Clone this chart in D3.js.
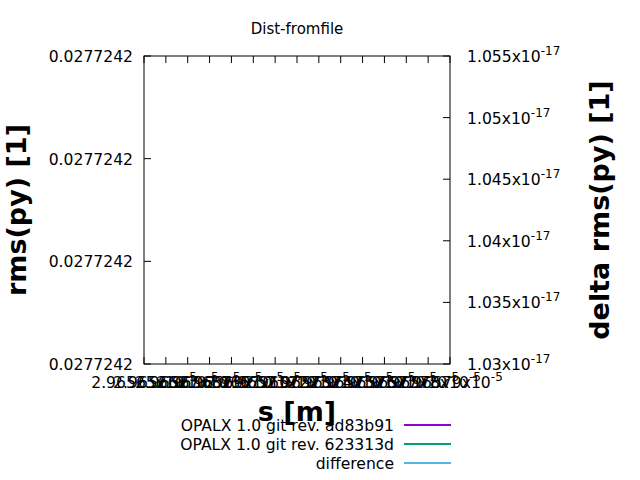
<!DOCTYPE html>
<html>
<head>
<meta charset="utf-8">
<style>
    body { margin: 0; background: #fff; }
    svg { font-family: "DejaVu Sans", sans-serif; }
    .frame { fill: none; stroke: #000; stroke-width: 1; }
    .tick { stroke: #000; stroke-width: 1; }
</style>
</head>
<body>
<svg width="640" height="480"></svg>
<script src="https://d3js.org/d3.v7.min.js"></script>
<script>
    // tick values as gnuplot printed them
    var xTicks = [2.96565, 2.96566, 2.96567, 2.96568, 2.96569, 2.96570, 2.96571, 2.96572,
        2.96573, 2.96574, 2.96575, 2.96576, 2.96577, 2.96578, 2.96579]; // x 1e-5
    var yTicks = [0.027724200, 0.027724205, 0.027724210, 0.027724215];
    var y2Ticks = [1.030, 1.035, 1.040, 1.045, 1.050, 1.055]; // x 1e-17

    // the file held a single sample per curve, so no line shows up
    var sValues = [2.96572];
    var rmsA = [0.0277242071];
    var rmsB = [0.0277242071];
    var deltaValues = [1.0425];

    var seriesNames = ['OPALX 1.0 git rev. ad83b91', 'OPALX 1.0 git rev. 623313d', 'difference'];
    var seriesColors = ['#9400d3', '#009e73', '#56b4e9'];

    var svg = d3.select('svg');
    var pLeft = 144, pRight = 450, pTop = 56, pBottom = 364;
    var fs = 15.6;

    var x = d3.scaleLinear().domain([xTicks[0], xTicks[xTicks.length - 1]]).range([pLeft, pRight]);
    var y = d3.scaleLinear().domain([yTicks[0], yTicks[yTicks.length - 1]]).range([pBottom, pTop]);
    var y2 = d3.scaleLinear().domain([y2Ticks[0], y2Ticks[y2Ticks.length - 1]]).range([pBottom, pTop]);

    var fmt6 = function (v) { return String(parseFloat(v.toPrecision(6))); };

    // title
    svg.append('text').attr('x', 297).attr('y', 34)
        .attr('text-anchor', 'middle').attr('font-size', 15)
        .text('Dist-fromfile');

    // x ticks, bottom and top
    var tl = 7;
    xTicks.forEach(function (t) {
        svg.append('line').attr('class', 'tick')
            .attr('x1', x(t)).attr('x2', x(t)).attr('y1', pBottom).attr('y2', pBottom - tl);
        svg.append('line').attr('class', 'tick')
            .attr('x1', x(t)).attr('x2', x(t)).attr('y1', pTop).attr('y2', pTop + tl);
        var lab = svg.append('text').attr('x', x(t)).attr('y', 388)
            .attr('text-anchor', 'middle').attr('font-size', fs);
        lab.append('tspan').text(fmt6(t) + 'x10');
        lab.append('tspan').attr('dy', -7).attr('font-size', 12).text('-5');
    });

    // left y ticks
    yTicks.forEach(function (t) {
        svg.append('line').attr('class', 'tick')
            .attr('x1', pLeft).attr('x2', pLeft + tl).attr('y1', y(t)).attr('y2', y(t));
        svg.append('text').attr('x', 133).attr('y', y(t) + 6)
            .attr('text-anchor', 'end').attr('font-size', fs)
            .text(fmt6(t));
    });

    // right y ticks
    y2Ticks.forEach(function (t) {
        svg.append('line').attr('class', 'tick')
            .attr('x1', pRight).attr('x2', pRight - tl).attr('y1', y2(t)).attr('y2', y2(t));
        var lab = svg.append('text').attr('x', 467).attr('y', y2(t) + 6)
            .attr('font-size', fs);
        lab.append('tspan').text(fmt6(t) + 'x10');
        lab.append('tspan').attr('dy', -7).attr('font-size', 12).text('-17');
    });

    // curves
    var lineA = d3.line().x(function (d, i) { return x(sValues[i]); }).y(function (d) { return y(d); });
    var lineD = d3.line().x(function (d, i) { return x(sValues[i]); }).y(function (d) { return y2(d); });
    [[rmsA, lineA], [rmsB, lineA], [deltaValues, lineD]].forEach(function (p, i) {
        svg.append('path').attr('d', p[1](p[0]))
            .attr('fill', 'none').attr('stroke', seriesColors[i]).attr('stroke-width', 2);
    });

    // frame
    svg.append('rect').attr('class', 'frame')
        .attr('x', pLeft).attr('y', pTop).attr('width', pRight - pLeft).attr('height', pBottom - pTop);

    // axis titles
    svg.append('text').attr('transform', 'translate(26,210) rotate(-90)')
        .attr('text-anchor', 'middle').attr('font-size', 27).attr('font-weight', 'bold')
        .text('rms(py) [1]');
    svg.append('text').attr('transform', 'translate(609,210) rotate(-90)')
        .attr('text-anchor', 'middle').attr('font-size', 27).attr('font-weight', 'bold')
        .text('delta rms(py) [1]');
    svg.append('text').attr('x', 297).attr('y', 421)
        .attr('text-anchor', 'middle').attr('font-size', 27).attr('font-weight', 'bold')
        .text('s [m]');

    // legend
    var rowY = d3.scalePoint().domain(seriesNames).range([425, 463]);
    seriesNames.forEach(function (n, i) {
        svg.append('text').attr('x', 394).attr('y', rowY(n) + 6)
            .attr('text-anchor', 'end').attr('font-size', fs).text(n);
        svg.append('line').attr('x1', 404).attr('x2', 451)
            .attr('y1', rowY(n)).attr('y2', rowY(n))
            .attr('stroke', seriesColors[i]).attr('stroke-width', 2);
    });
</script>
</body>
</html>
